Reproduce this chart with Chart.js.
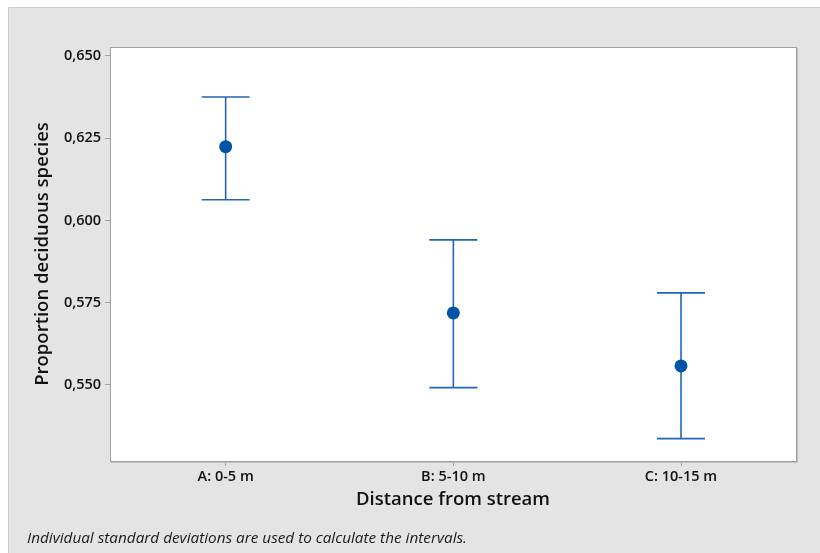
<!DOCTYPE html>
<html>
<head>
<meta charset="utf-8">
<script src="https://cdn.jsdelivr.net/npm/chart.js@4"></script>
<style>
html,body{margin:0;padding:0;background:#fff;}
#wrap{width:820px;height:553px;position:relative;}
</style>
</head>
<body>
<div id="wrap"><canvas id="c" width="820" height="553"></canvas></div>
<script>
const categories = ['A: 0-5 m', 'B: 5-10 m', 'C: 10-15 m'];
const means = [0.6224, 0.5719, 0.5558];
const lowers = [0.6063, 0.5492, 0.5337];
const uppers = [0.6375, 0.5941, 0.5780];
const yTicks = [0.550, 0.575, 0.600, 0.625, 0.650];
const yTickLabels = ['0,550', '0,575', '0,600', '0,625', '0,650'];
const footnote = 'Individual standard deviations are used to calculate the intervals.';

const FONT = '"Open Sans", "Noto Sans", sans-serif';
const PLOT = {left: 110, top: 47, right: 796, bottom: 461};

const bgPlugin = {
  id: 'bg',
  beforeDraw(chart) {
    const ctx = chart.ctx;
    ctx.save();
    ctx.fillStyle = '#ffffff';
    ctx.fillRect(0, 0, 820, 553);
    ctx.fillStyle = '#e4e4e4';
    ctx.fillRect(8, 7, 812, 546);
    ctx.strokeStyle = '#cdcdcd';
    ctx.lineWidth = 1;
    ctx.beginPath();
    ctx.moveTo(8.5, 553);
    ctx.lineTo(8.5, 7.5);
    ctx.lineTo(820, 7.5);
    ctx.stroke();
    const a = chart.chartArea;
    ctx.fillStyle = '#ffffff';
    ctx.fillRect(a.left, a.top, a.right - a.left, a.bottom - a.top);
    ctx.restore();
  },
  beforeDatasetsDraw(chart) {
    const ctx = chart.ctx;
    const a = chart.chartArea;
    const xs = chart.scales.x, ys = chart.scales.y;
    ctx.save();
    // frame
    ctx.strokeStyle = '#bdbdbd';
    ctx.lineWidth = 1;
    ctx.beginPath();
    ctx.moveTo(a.right + 1.5, a.top + 1);
    ctx.lineTo(a.right + 1.5, a.bottom + 1.5);
    ctx.lineTo(a.left + 1, a.bottom + 1.5);
    ctx.stroke();
    ctx.strokeStyle = '#a0a0a0';
    ctx.strokeRect(a.left + 0.5, a.top + 0.5, a.right - a.left, a.bottom - a.top);
    // error bars
    ctx.strokeStyle = '#2266b4';
    ctx.lineWidth = 1.6;
    for (let i = 0; i < categories.length; i++) {
      const x = xs.getPixelForValue(i);
      const yl = ys.getPixelForValue(lowers[i]);
      const yu = ys.getPixelForValue(uppers[i]);
      ctx.beginPath();
      ctx.moveTo(x, yl); ctx.lineTo(x, yu);
      ctx.moveTo(x - 24, yu); ctx.lineTo(x + 24, yu);
      ctx.moveTo(x - 24, yl); ctx.lineTo(x + 24, yl);
      ctx.stroke();
    }
    ctx.restore();
  },
  afterDraw(chart) {
    const ctx = chart.ctx;
    ctx.save();
    ctx.fillStyle = '#1a1a1a';
    ctx.font = 'italic 15.3px ' + FONT;
    ctx.textBaseline = 'middle';
    ctx.textAlign = 'left';
    ctx.fillText(footnote, 27, 539);
    ctx.restore();
  }
};

new Chart(document.getElementById('c'), {
  type: 'scatter',
  data: {
    datasets: [{
      data: means.map((v, i) => ({x: i, y: v})),
      backgroundColor: '#0054a6',
      borderColor: '#0054a6',
      pointRadius: 6.5,
      pointHoverRadius: 6.5,
      borderWidth: 0
    }]
  },
  options: {
    responsive: false,
    animation: false,
    devicePixelRatio: 1,
    layout: {padding: {left: 8, top: PLOT.top, right: 820 - PLOT.right, bottom: 33}},
    plugins: {legend: {display: false}, tooltip: {enabled: false}},
    scales: {
      x: {
        type: 'linear',
        min: -0.508, max: 2.505,
        afterBuildTicks(s) { s.ticks = categories.map((c, i) => ({value: i})); },
        afterFit(s) { s.height = 553 - 33 - PLOT.bottom; },
        ticks: {
          callback: (v) => categories[v],
          color: '#111111',
          font: {family: FONT, size: 14.5, weight: '600'},
          padding: 2,
          maxRotation: 0, autoSkip: false
        },
        grid: {drawOnChartArea: false, drawTicks: true, tickLength: 5, color: '#a0a0a0'},
        border: {display: false},
        title: {
          display: true, text: 'Distance from stream', color: '#111111',
          font: {family: FONT, size: 18.5, weight: '600'},
          padding: {top: 0, bottom: 9}
        }
      },
      y: {
        min: 0.5269, max: 0.6527,
        afterBuildTicks(s) { s.ticks = yTicks.map(v => ({value: v})); },
        afterFit(s) { s.width = PLOT.left - 8; },
        ticks: {
          callback: (v) => yTickLabels[yTicks.indexOf(v)],
          color: '#111111',
          font: {family: FONT, size: 14.5, weight: '600'},
          padding: 4
        },
        grid: {drawOnChartArea: false, drawTicks: true, tickLength: 5, color: '#a0a0a0'},
        border: {display: false},
        title: {
          display: true, text: 'Proportion deciduous species', color: '#111111',
          font: {family: FONT, size: 18.5, weight: '600'},
          padding: {top: 24, bottom: 0}
        }
      }
    }
  },
  plugins: [bgPlugin]
});
</script>
</body>
</html>
